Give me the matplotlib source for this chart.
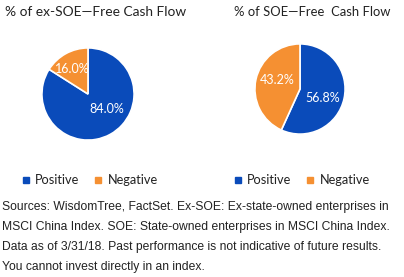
import matplotlib
matplotlib.use('Agg')
import matplotlib.pyplot as plt
from matplotlib.lines import Line2D

# data
categories = ['Positive', 'Negative']
ex_soe_values = [84.0, 16.0]
soe_values = [56.8, 43.2]
titles = ['% of ex-SOE\u2014Free Cash Flow', '% of SOE\u2014Free  Cash Flow']
footnote_lines = [
    'Sources: WisdomTree, FactSet. Ex-SOE: Ex-state-owned enterprises in',
    'MSCI China Index. SOE: State-owned enterprises in MSCI China Index.',
    'Data as of 3/31/18. Past performance is not indicative of future results.',
    'You cannot invest directly in an index.',
]

colors = ['#0A4BBA', '#F59032']
W, H = 404, 277

fig = plt.figure(figsize=(W / 100, H / 100), dpi=100)
fig.patch.set_facecolor('white')

title_font = ['Lato', 'DejaVu Sans']


def px_axes(cx, cy, r):
    return fig.add_axes([(cx - r) / W, 1 - (cy + r) / H, 2 * r / W, 2 * r / H])


def draw_pie(ax, values, label_pos):
    wedges, _, autotexts = ax.pie(
        values, colors=colors, startangle=90, counterclock=False,
        autopct='%.1f%%', pctdistance=0.55, radius=1,
        wedgeprops=dict(edgecolor='white', linewidth=1.2),
        textprops=dict(color='white', fontsize=9, family=title_font))
    for t, pos in zip(autotexts, label_pos):
        t.set_position(pos)
    ax.set_xlim(-1.02, 1.02)
    ax.set_ylim(-1.02, 1.02)
    ax.set_aspect('equal')
    ax.axis('off')


# left pie
ax1 = px_axes(88, 94, 47)
draw_pie(ax1, ex_soe_values, [(0.40, -0.32), (-0.34, 0.55)])

# right pie
ax2 = px_axes(300, 89, 46)
draw_pie(ax2, soe_values, [(0.50, -0.20), (-0.50, 0.20)])

# titles
fig.text(5 / W, 1 - 12 / H, titles[0], fontsize=9.9, family=title_font,
         ha='left', va='center', color='#222222')
fig.text(234 / W, 1 - 12 / H, titles[1], fontsize=9.4, family=title_font,
         ha='left', va='center', color='#222222')

# legends
handles = [Line2D([0], [0], marker='s', linestyle='none', markersize=5,
                  markerfacecolor=c, markeredgecolor=c) for c in colors]
for x0 in (21, 233):
    leg = fig.legend(handles, categories, loc='center left',
                     bbox_to_anchor=(x0 / W, 1 - 180 / H), ncol=2, frameon=False,
                     prop=dict(family=title_font, size=9.2), handlelength=0.8,
                     handletextpad=0.3, columnspacing=1.1, borderaxespad=0,
                     borderpad=0)
    for t in leg.get_texts():
        t.set_color('#222222')

# footnote
for i, line in enumerate(footnote_lines):
    fig.text(2.5 / W, 1 - (207 + 19.9 * i) / H, line, fontsize=8.7,
             family='Liberation Sans', ha='left', va='center', color='#222222')

fig.savefig('out.png', dpi=100)
